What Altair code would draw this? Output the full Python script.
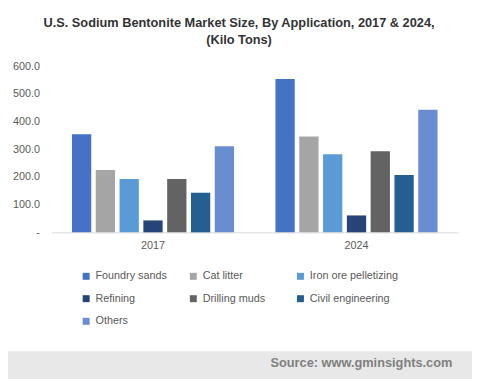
import altair as alt
import pandas as pd

years = ["2017", "2024"]
applications = ["Foundry sands", "Cat litter", "Iron ore pelletizing", "Refining",
                "Drilling muds", "Civil engineering", "Others"]
values_2017 = [354, 225, 193, 43, 193, 143, 311]
values_2024 = [554, 346, 282, 61, 293, 207, 443]
colors = ["#4472C4", "#A5A5A5", "#5B9BD5", "#264478", "#636363", "#255E91", "#698ED0"]
y_ticks = [0, 100, 200, 300, 400, 500, 600]

rows = []
for yr, vals in zip(years, [values_2017, values_2024]):
    for app, v in zip(applications, vals):
        rows.append({"Year": yr, "Application": app, "Value": v})
df = pd.DataFrame(rows)

FONT = "Liberation Sans"
GRAY = "#595959"

bars = alt.Chart(df).mark_bar().encode(
    x=alt.X("Year:N", sort=years,
            scale=alt.Scale(paddingInner=0, paddingOuter=0),
            axis=alt.Axis(title=None, labelAngle=0, ticks=False, domainColor="#D9D9D9",
                          labelColor=GRAY, labelFontSize=11, labelFont=FONT, labelPadding=7)),
    xOffset=alt.XOffset("Application:N", sort=applications,
                        scale=alt.Scale(paddingInner=0.19, paddingOuter=0.87)),
    y=alt.Y("Value:Q", scale=alt.Scale(domain=[0, 600], nice=False),
            axis=alt.Axis(title=None, values=y_ticks, grid=False, domain=False, ticks=False,
                          labelColor=GRAY, labelFontSize=11, labelFont=FONT, labelPadding=12,
                          labelExpr="datum.value == 0 ? '-\u00a0\u00a0\u00a0' : format(datum.value, '.1f')")),
    color=alt.Color("Application:N", sort=applications,
                    scale=alt.Scale(domain=applications, range=colors),
                    legend=alt.Legend(title=None, orient="none", legendX=30, legendY=39 + 169,
                                      direction="horizontal",
                                      columns=3, gridAlign="all", columnPadding=4, rowPadding=11,
                                      symbolType="square", symbolSize=50, symbolStrokeWidth=0,
                                      labelFontSize=11, labelFont=FONT, labelColor=GRAY,
                                      labelOffset=4)),
)

one = pd.DataFrame({"a": [0]})
band = alt.Chart(one).mark_rect(color="#E8E8E8").encode(
    x=alt.value(-52), x2=alt.value(430), y=alt.value(290), y2=alt.value(320)
)
source = alt.Chart(one).mark_text(
    align="right", baseline="middle", fontWeight="bold", fontSize=13, font=FONT, color="#7F7F7F"
).encode(x=alt.value(408), y=alt.value(302), text=alt.value("Source: www.gminsights.com"))

chart = alt.layer(band, bars, source).properties(
    width=414, height=169,
    autosize=alt.AutoSizeParams(type="none"),
    padding={"left": 44, "top": 56, "right": 14, "bottom": 146},
    title=alt.TitleParams(
        text=["U.S. Sodium Bentonite Market Size, By Application, 2017 & 2024,", "(Kilo Tons)"],
        font=FONT, fontSize=13, fontWeight="bold", color="#333333", anchor="middle",
        dx=-16, offset=14, lineHeight=17),
).configure_view(stroke=None)

chart.save("out.html", embed_options={"renderer": "svg", "actions": False})
